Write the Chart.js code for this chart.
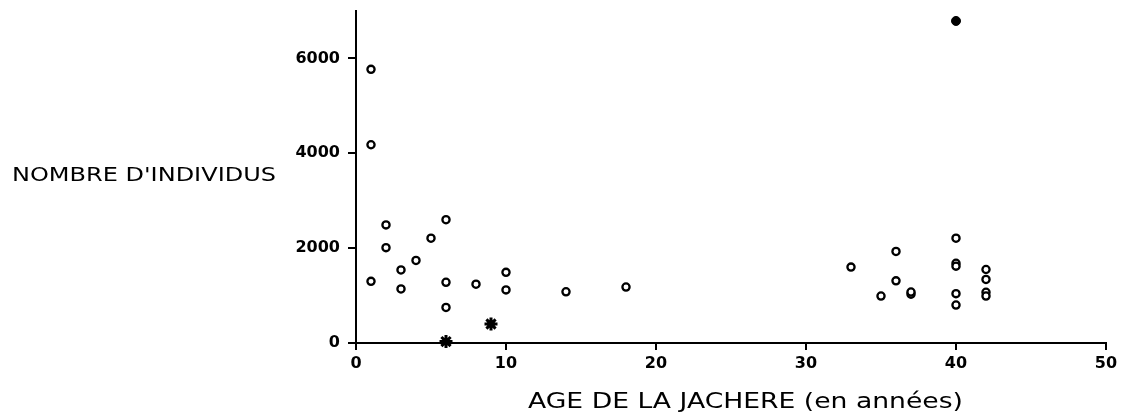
<!DOCTYPE html>
<html>
<head>
<meta charset="utf-8">
<script src="https://cdn.jsdelivr.net/npm/chart.js@4.4.1/dist/chart.umd.min.js"></script>
<style>
html,body{margin:0;padding:0;background:#fff;}
#wrap{width:1126px;height:419px;position:relative;}
</style>
</head>
<body>
<div id="wrap"><canvas id="c"></canvas></div>
<script>
// Data
const circleAge = [1,1,1,2,2,3,3,4,5,6,6,6,8,10,10,14,18,33,35,36,36,37,37,40,40,40,40,40,42,42,42,42];
const circleCount = [5770,4180,1300,2490,2010,1540,1140,1740,2210,2600,1280,750,1240,1490,1120,1080,1180,1600,990,1930,1310,1030,1075,2210,1680,1620,1040,800,1550,1340,1070,990];
const starAge = [6,9];
const starCount = [30,400];
const filledAge = [40];
const filledCount = [6790];
const xTicks = [0,10,20,30,40,50];
const yTicks = [0,2000,4000,6000];
const yTitle = "NOMBRE D'INDIVIDUS";
const xTitle = "AGE DE LA JACHERE (en années)";

function toPoints(xs, ys){ return xs.map((x,i)=>({x:x, y:ys[i]})); }

const titlePlugin = {
  id: 'titles',
  afterDraw(chart){
    const ctx = chart.ctx;
    function drawFit(text, x, y, size, w){
      ctx.save();
      ctx.font = size + 'px "DejaVu Sans"';
      ctx.fillStyle = '#000';
      ctx.textBaseline = 'alphabetic';
      ctx.textAlign = 'left';
      const m = ctx.measureText(text).width;
      ctx.translate(x, y);
      ctx.scale(w / m, 1);
      ctx.fillText(text, 0, 0);
      ctx.restore();
    }
    drawFit(yTitle, 12, 181, 20, 264);
    drawFit(xTitle, 528, 408, 21, 435);
  }
};

const tickFont = {family: '"DejaVu Sans"', size: 16, weight: 'bold'};

new Chart(document.getElementById('c'), {
  type: 'scatter',
  data: {
    datasets: [
      {data: toPoints(circleAge, circleCount), pointStyle: 'circle', pointRadius: 3.6, pointBorderWidth: 2.3, borderColor: '#000', backgroundColor: '#fff', clip: false},
      {data: toPoints(starAge, starCount), pointStyle: 'star', pointRadius: 6.5, pointBorderWidth: 3, borderColor: '#000', backgroundColor: '#000', clip: false},
      {data: toPoints(filledAge, filledCount), pointStyle: 'circle', pointRadius: 4.5, pointBorderWidth: 1, borderColor: '#000', backgroundColor: '#000', clip: false}
    ]
  },
  options: {
    responsive: true,
    maintainAspectRatio: false,
    animation: false,
    layout: {padding: {top: 11, right: 20, left: 0, bottom: 0}},
    plugins: {legend: {display: false}, tooltip: {enabled: false}},
    scales: {
      x: {
        type: 'linear', min: 0, max: 50,
        afterBuildTicks(s){ s.ticks = xTicks.map(v=>({value:v})); },
        afterFit(s){ s.height = 76; s.paddingLeft = 0; s.paddingRight = 0; },
        ticks: {color: '#000', font: tickFont, padding: 4, maxRotation: 0, callback: v => String(v)},
        grid: {drawOnChartArea: false, drawTicks: true, tickLength: 7, color: '#000', lineWidth: 2},
        border: {display: true, color: '#000', width: 2}
      },
      y: {
        type: 'linear', min: 0, max: 7000,
        afterBuildTicks(s){ s.ticks = yTicks.map(v=>({value:v})); },
        afterFit(s){ s.width = 356; s.paddingTop = 0; s.paddingBottom = 0; },
        ticks: {color: '#000', font: tickFont, padding: 8, callback: v => String(v)},
        grid: {drawOnChartArea: false, drawTicks: true, tickLength: 8, color: '#000', lineWidth: 2},
        border: {display: true, color: '#000', width: 2}
      }
    }
  },
  plugins: [titlePlugin]
});
</script>
</body>
</html>
